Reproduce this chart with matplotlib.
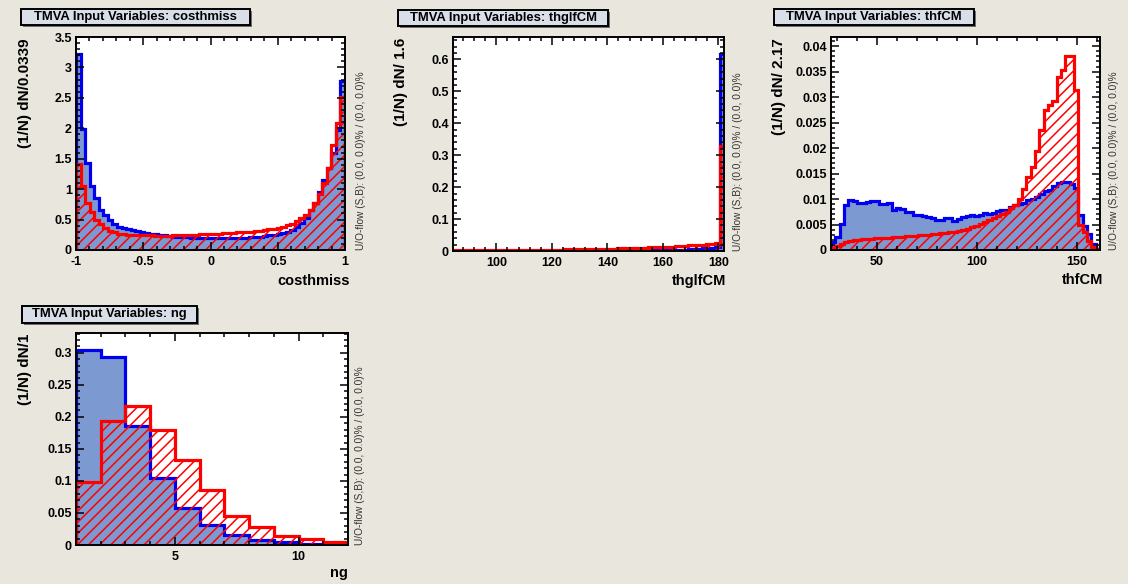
import numpy as np
import matplotlib
matplotlib.use('Agg')
import matplotlib.pyplot as plt
from matplotlib.patches import Rectangle
from matplotlib.ticker import MultipleLocator, FuncFormatter

W, H = 1128, 584

# costhmiss: 59 bins in [-1, 1]
cost_sig = [3.22, 1.99, 1.43, 1.05, 0.85, 0.66, 0.57, 0.49, 0.42, 0.38,
            0.36, 0.34, 0.33, 0.31, 0.30, 0.28, 0.27, 0.26, 0.25, 0.24,
            0.23, 0.22, 0.22, 0.21, 0.21, 0.20, 0.20, 0.20, 0.19, 0.19,
            0.19, 0.19, 0.19, 0.19, 0.20, 0.20, 0.20, 0.20, 0.21, 0.21,
            0.22, 0.23, 0.24, 0.25, 0.26, 0.28, 0.30, 0.33, 0.38, 0.45,
            0.52, 0.65, 0.78, 0.95, 1.15, 1.35, 1.59, 1.97, 2.78]
cost_bkg = [1.42, 1.05, 0.78, 0.62, 0.50, 0.42, 0.36, 0.32, 0.29, 0.27,
            0.26, 0.25, 0.25, 0.24, 0.24, 0.24, 0.24, 0.23, 0.23, 0.23,
            0.23, 0.24, 0.24, 0.24, 0.25, 0.25, 0.25, 0.26, 0.26, 0.27,
            0.27, 0.27, 0.28, 0.28, 0.28, 0.29, 0.29, 0.30, 0.30, 0.31,
            0.32, 0.33, 0.34, 0.35, 0.36, 0.38, 0.41, 0.43, 0.47, 0.52,
            0.58, 0.66, 0.78, 0.92, 1.10, 1.35, 1.72, 2.08, 2.52]

# thglfCM: 61 bins of 1.6 from 84.4
thg_sig = [0.0002, 0.0002, 0.0002, 0.0002, 0.0002, 0.0002, 0.0002, 0.0002, 0.0002, 0.0002,
           0.0003, 0.0003, 0.0003, 0.0003, 0.0003, 0.0003, 0.0003, 0.0003, 0.0003, 0.0003,
           0.0004, 0.0004, 0.0004, 0.0004, 0.0004, 0.0005, 0.0005, 0.0005, 0.0005, 0.0005,
           0.0006, 0.0006, 0.0006, 0.0007, 0.0007, 0.0008, 0.0008, 0.0009, 0.0009, 0.0010,
           0.0010, 0.0010, 0.0010, 0.0015, 0.0015, 0.0020, 0.0020, 0.0025, 0.0030, 0.0030,
           0.0035, 0.0040, 0.0045, 0.0050, 0.0060, 0.0070, 0.0080, 0.0090, 0.0100, 0.0120,
           0.616]
thg_bkg = [0.002, 0.002, 0.002, 0.002, 0.002, 0.002, 0.002, 0.002, 0.002, 0.002,
           0.003, 0.003, 0.003, 0.003, 0.003, 0.003, 0.003, 0.004, 0.004, 0.004,
           0.004, 0.004, 0.004, 0.004, 0.004, 0.005, 0.005, 0.005, 0.005, 0.005,
           0.006, 0.006, 0.006, 0.006, 0.007, 0.007, 0.007, 0.008, 0.008, 0.008,
           0.009, 0.009, 0.010, 0.010, 0.011, 0.011, 0.012, 0.012, 0.013, 0.014,
           0.015, 0.016, 0.017, 0.018, 0.019, 0.020, 0.020, 0.021, 0.022, 0.024,
           0.329]

# thfCM: 62 bins of 2.17 from 27.2
thf_sig = [0.0015, 0.0025, 0.0051, 0.0088, 0.0098, 0.0096, 0.0092, 0.0093, 0.0094, 0.0096,
           0.0096, 0.0090, 0.0091, 0.0092, 0.0079, 0.0082, 0.0081, 0.0075, 0.0074, 0.0069,
           0.0068, 0.0066, 0.0064, 0.0062, 0.0059, 0.0058, 0.0063, 0.0062, 0.0056, 0.0060,
           0.0064, 0.0066, 0.0068, 0.0066, 0.0069, 0.0072, 0.0071, 0.0073, 0.0077, 0.0079,
           0.0078, 0.0085, 0.0088, 0.0090, 0.0092, 0.0098, 0.0101, 0.0104, 0.0110, 0.0115,
           0.0118, 0.0126, 0.0131, 0.0134, 0.0133, 0.0130, 0.0122, 0.0068, 0.0048, 0.0032,
           0.0012, 0.0002]
thf_bkg = [0.0003, 0.0008, 0.0012, 0.0015, 0.0017, 0.0019, 0.0020, 0.0021, 0.0022, 0.0022,
           0.0023, 0.0023, 0.0024, 0.0024, 0.0025, 0.0025, 0.0026, 0.0027, 0.0027, 0.0028,
           0.0029, 0.0030, 0.0030, 0.0031, 0.0032, 0.0033, 0.0034, 0.0035, 0.0036, 0.0038,
           0.0040, 0.0042, 0.0045, 0.0048, 0.0052, 0.0055, 0.0058, 0.0062, 0.0066, 0.0070,
           0.0075, 0.0082, 0.0088, 0.0101, 0.0120, 0.0143, 0.0163, 0.0195, 0.0235, 0.0274,
           0.0285, 0.0293, 0.0339, 0.0353, 0.0381, 0.0381, 0.0314, 0.0050, 0.0035, 0.0018,
           0.0006, 0.0001]

# ng: 11 bins of 1 from 1
ng_sig = [0.305, 0.293, 0.186, 0.105, 0.058, 0.032, 0.016, 0.008, 0.0045, 0.002, 0.001]
ng_bkg = [0.098, 0.193, 0.217, 0.179, 0.133, 0.086, 0.045, 0.028, 0.0145, 0.009, 0.004]

BG = '#e9e6dd'
FILL_BLUE = '#7d99d1'
LINE_BLUE = '#0000ee'
RED = '#ff0000'
UOFLOW = 'U/O-flow (S,B): (0.0, 0.0)% / (0.0, 0.0)%'

plt.rcParams['font.family'] = ['Liberation Sans', 'DejaVu Sans']
plt.rcParams['font.weight'] = 'bold'
plt.rcParams['hatch.linewidth'] = 1.1

fig = plt.figure(figsize=(W / 100, H / 100), dpi=100, facecolor=BG)


def fx(x):
    return x / W


def fy(y):
    return 1 - y / H


def title_box(x0, x1, y0, y1, text):
    shadow = Rectangle((fx(x0 + 2), fy(y1 + 2)), fx(x1 - x0), (y1 - y0) / H,
                       transform=fig.transFigure, facecolor='#6e6e6e', edgecolor='none')
    box = Rectangle((fx(x0), fy(y1)), fx(x1 - x0), (y1 - y0) / H,
                    transform=fig.transFigure, facecolor='#d9dee8', edgecolor='black', lw=1.4)
    fig.patches.extend([shadow, box])
    fig.text(fx((x0 + x1) / 2), fy((y0 + y1) / 2), text, ha='center', va='center',
             fontsize=9.4, fontweight='bold')


def panel(l, t, r, b, edges, sig, bkg, xlim, ylim, xmaj, xmin, ymaj, ymin,
          ylab, ylab_x, xlab, xlab_x, xlab_y, flow_x):
    ax = fig.add_axes([fx(l), fy(b), fx(r - l), (b - t) / H])
    ax.set_facecolor('white')
    ax.stairs(sig, edges, fill=True, color=FILL_BLUE, linewidth=0)
    ax.stairs(sig, edges, color=LINE_BLUE, linewidth=2.3)
    ax.stairs(bkg, edges, fill=True, facecolor='none', edgecolor=RED, hatch='///', linewidth=0)
    ax.stairs(bkg, edges, color=RED, linewidth=2.3)
    ax.set_xlim(*xlim)
    ax.set_ylim(*ylim)
    ax.xaxis.set_major_locator(MultipleLocator(xmaj))
    ax.xaxis.set_minor_locator(MultipleLocator(xmin))
    ax.yaxis.set_major_locator(MultipleLocator(ymaj))
    ax.yaxis.set_minor_locator(MultipleLocator(ymin))
    fmt = FuncFormatter(lambda v, p: f'{v:g}')
    ax.xaxis.set_major_formatter(fmt)
    ax.yaxis.set_major_formatter(fmt)
    ax.tick_params(which='both', direction='in', top=True, right=True, width=1.1,
                   labelsize=9, pad=3)
    ax.tick_params(which='major', length=6)
    ax.tick_params(which='minor', length=3)
    ax.tick_params(axis='x', pad=4)
    for lab in ax.get_xticklabels() + ax.get_yticklabels():
        lab.set_fontweight('bold')
    for s in ax.spines.values():
        s.set_linewidth(1.4)
    fig.text(fx(ylab_x), fy(t + 1), ylab, rotation=90, ha='center', va='top',
             fontsize=11, fontweight='bold')
    fig.text(fx(xlab_x), fy(xlab_y), xlab, ha='right', va='center',
             fontsize=10.5, fontweight='bold')
    fig.text(fx(flow_x), fy(b), UOFLOW, rotation=90, ha='center', va='bottom',
             fontsize=7.3, fontweight='normal', color='#333333')
    return ax


edges_cost = np.linspace(-1, 1, len(cost_sig) + 1)
edges_thg = 84.4 + 1.6 * np.arange(len(thg_sig) + 1)
edges_thf = 27.2 + 2.17 * np.arange(len(thf_sig) + 1)
edges_ng = 1 + np.arange(len(ng_sig) + 1)

title_box(21, 250, 9, 25, 'TMVA Input Variables: costhmiss')
panel(76, 37, 345, 250, edges_cost, cost_sig, cost_bkg, (-1, 1), (0, 3.5),
      0.5, 0.1, 0.5, 0.1, '(1/N) dN/0.0339', 25, 'costhmiss', 350, 281, 361.5)

title_box(398, 608, 10, 26, 'TMVA Input Variables: thglfCM')
panel(453, 37, 724, 251, edges_thg, thg_sig, thg_bkg, (84.4, 182.0), (0, 0.67),
      20, 4, 0.1, 0.02, '(1/N) dN/ 1.6', 401, 'thglfCM', 726, 281, 737.7)

title_box(774, 974, 9, 25, 'TMVA Input Variables: thfCM')
panel(831, 37, 1100, 250, edges_thf, thf_sig, thf_bkg, (27.2, 161.74), (0, 0.0418),
      50, 10, 0.005, 0.001, '(1/N) dN/ 2.17', 778.6, 'thfCM', 1103.7, 280, 1113.7)

title_box(22, 197, 306, 323, 'TMVA Input Variables: ng')
panel(76, 333, 348, 545, edges_ng, ng_sig, ng_bkg, (1, 12), (0, 0.331),
      5, 1, 0.05, 0.01, '(1/N) dN/1', 25, 'ng', 348, 573, 360)

fig.savefig('out.png', dpi=100, facecolor=BG)
